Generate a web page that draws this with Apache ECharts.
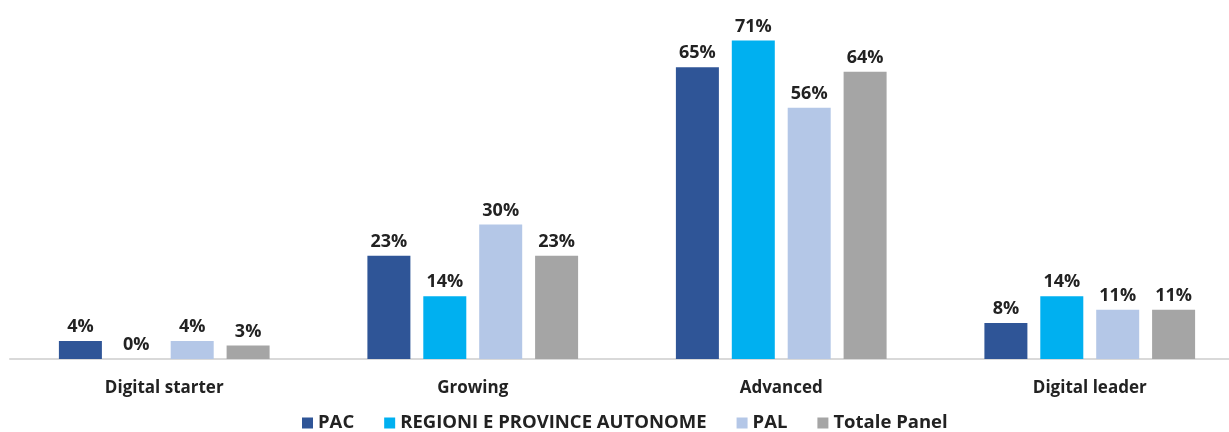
<!DOCTYPE html>
<html><head><meta charset="utf-8">
<script src="https://cdn.jsdelivr.net/npm/echarts@6/dist/echarts.min.js"></script>
<style>html,body{margin:0;padding:0;background:#fff;overflow:hidden;width:1229px;height:432px}#c{width:1244px;height:432px}</style>
</head><body><div id="c"></div>
<script>
const categories = ['Digital starter', 'Growing', 'Advanced', 'Digital leader'];
const seriesNames = ['PAC', 'REGIONI E PROVINCE AUTONOME', 'PAL', 'Totale Panel'];
const pac = [4, 23, 65, 8];
const regioni = [0, 14, 71, 14];
const pal = [4, 30, 56, 11];
const totale = [3, 23, 64, 11];
const colors = ['#2F5597', '#00B0F0', '#B4C7E7', '#A5A5A5'];
const values = [pac, regioni, pal, totale];
const font = '"Open Sans", Lato, sans-serif';
const chart = echarts.init(document.getElementById('c'));
chart.setOption({
  animation: false,
  color: colors,
  grid: { left: 10, right: 0, top: 0, bottom: 73 },
  legend: {
    top: 413, left: 302, padding: 0, itemWidth: 11, itemHeight: 11, itemGap: 30,
    icon: 'rect',
    textStyle: { fontFamily: font, fontWeight: 'bold', fontSize: 18.5, lineHeight: 20, color: '#222222' },
    data: seriesNames
  },
  xAxis: {
    type: 'category', data: categories,
    axisLine: { lineStyle: { color: '#D9D9D9', width: 2 } },
    axisTick: { show: false },
    axisLabel: { fontFamily: font, fontWeight: 'bold', fontSize: 17, color: '#222222', margin: 21 }
  },
  yAxis: { type: 'value', min: 0, max: 80, show: false, splitLine: { show: false } },
  series: seriesNames.map((n, i) => ({
    name: n, type: 'bar', data: values[i], barWidth: 43, barGap: '30%',
    label: { show: true, position: 'top', distance: 5, formatter: '{c}%',
      fontFamily: font, fontWeight: 'bold', fontSize: 18, color: '#222222' }
  }))
});
</script></body></html>
